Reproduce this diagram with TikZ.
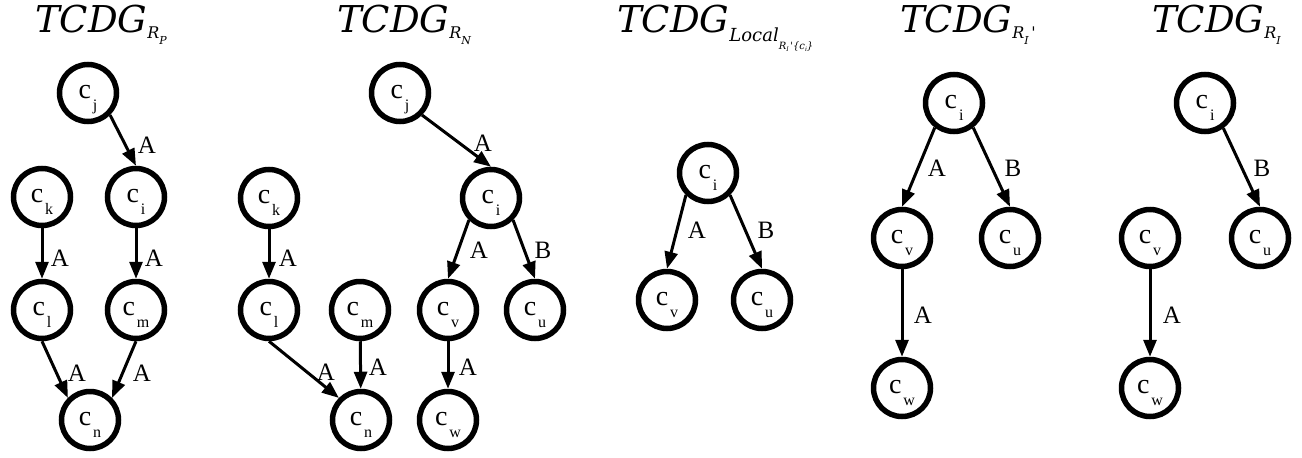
\documentclass[tikz,border=0pt]{standalone}
\usepackage{fontspec}
\setmainfont{Liberation Serif}
\newfontfamily\titlefont{DejaVu Serif}
\usetikzlibrary{arrows.meta}
\tikzset{
  cnode/.style={draw, circle, line width=5.5pt, minimum size=57pt, inner sep=0pt,
    text height=20pt, text depth=10pt, font=\fontsize{28}{28}\selectfont},
  edge/.style={line width=3pt, -{Triangle[length=17pt,width=13pt]}},
  elabel/.style={inner sep=0pt, font=\fontsize{25}{25}\selectfont},
  ttl/.style={anchor=base west, inner sep=0pt, font=\titlefont\itshape\fontsize{37}{37}\selectfont}
}
\newcommand{\cc}[1]{c\hspace{2pt}\raisebox{-12pt}{\fontsize{16}{16}\selectfont #1}}
\begin{document}
\begin{tikzpicture}[x=1pt,y=-1pt]
\useasboundingbox (0,0) rectangle (1302,458);
% titles
\node[ttl] (tp) at (35,32) {TCDG\raisebox{-6pt}{\fontsize{16}{16}\selectfont R\raisebox{-6pt}{\fontsize{11}{11}\selectfont P}}};
\node[ttl] (tn) at (337,32) {TCDG\raisebox{-6pt}{\fontsize{16}{16}\selectfont R\raisebox{-6pt}{\fontsize{11}{11}\selectfont N}}};
\node[ttl] (tl) at (617,32) {TCDG\raisebox{-9pt}{\fontsize{18}{18}\selectfont Local\raisebox{-8pt}{\fontsize{10}{10}\selectfont R\raisebox{-2pt}{\fontsize{6}{6}\selectfont I}\,'\{c\raisebox{-2pt}{\fontsize{6}{6}\selectfont i}\}}}};
\node[ttl] (ta) at (900,32) {TCDG\raisebox{-6pt}{\fontsize{16}{16}\selectfont R\raisebox{-6pt}{\fontsize{11}{11}\selectfont I}\,'}};
\node[ttl] (tb) at (1152,32) {TCDG\raisebox{-6pt}{\fontsize{16}{16}\selectfont R\raisebox{-6pt}{\fontsize{11}{11}\selectfont I}}};

% TCDG R_P
\node[cnode] (pj) at (88,93) {\cc{j}};
\node[cnode] (pk) at (42,197) {\cc{k}};
\node[cnode] (pi) at (136,197) {\cc{i}};
\node[cnode] (pl) at (42,310) {\cc{l}};
\node[cnode] (pm) at (136,310) {\cc{m}};
\node[cnode] (pn) at (90,420) {\cc{n}};
\draw[edge] (pj.south east) -- (pi.north);
\draw[edge] (pk) -- (pl);
\draw[edge] (pi) -- (pm);
\draw[edge] (pl.south) -- (pn.north west);
\draw[edge] (pm.south) -- (pn.north east);
\node[elabel] (pa1) at (147,145) {A};
\node[elabel] (pa2) at (60,258) {A};
\node[elabel] (pa3) at (154,258) {A};
\node[elabel] (pa4) at (77,373) {A};
\node[elabel] (pa5) at (142,373) {A};

% TCDG R_N
\node[cnode] (nj) at (400,93) {\cc{j}};
\node[cnode] (nk) at (269,198) {\cc{k}};
\node[cnode] (ni) at (491,198) {\cc{i}};
\node[cnode] (nl) at (269,310) {\cc{l}};
\node[cnode] (nm) at (360,310) {\cc{m}};
\node[cnode] (nv) at (448,310) {\cc{v}};
\node[cnode] (nu) at (535,310) {\cc{u}};
\node[cnode] (nn) at (361,420) {\cc{n}};
\node[cnode] (nw) at (448,420) {\cc{w}};
\draw[edge] (nj.south east) -- (ni.north);
\draw[edge] (nk) -- (nl);
\draw[edge] (ni.south west) -- (nv.north);
\draw[edge] (ni.south east) -- (nu.north);
\draw[edge] (nl.south) -- (nn.north west);
\draw[edge] (nm) -- (nn);
\draw[edge] (nv) -- (nw);
\node[elabel] (na1) at (483,143) {A};
\node[elabel] (na2) at (288,258) {A};
\node[elabel] (na3) at (479,250) {A};
\node[elabel] (nb1) at (543,250) {B};
\node[elabel] (na4) at (326,372) {A};
\node[elabel] (na5) at (378,367) {A};
\node[elabel] (na6) at (468,367) {A};

% TCDG Local
\node[cnode] (li) at (708,173) {\cc{i}};
\node[cnode] (lv) at (667,300) {\cc{v}};
\node[cnode] (lu) at (762,300) {\cc{u}};
\draw[edge] (li.south west) -- (lv.north);
\draw[edge] (li.south east) -- (lu.north);
\node[elabel] (la1) at (697,230) {A};
\node[elabel] (lb1) at (766,230) {B};

% TCDG R_I'
\node[cnode] (ai) at (954,103) {\cc{i}};
\node[cnode] (av) at (902,238) {\cc{v}};
\node[cnode] (au) at (1010,238) {\cc{u}};
\node[cnode] (aw) at (902,388) {\cc{w}};
\draw[edge] (ai.-128) -- (av.north);
\draw[edge] (ai.-52) -- (au.north);
\draw[edge] (av) -- (aw);
\node[elabel] (aa1) at (937,168) {A};
\node[elabel] (ab1) at (1013,168) {B};
\node[elabel] (aa2) at (923,315) {A};

% TCDG R_I
\node[cnode] (bi) at (1205,103) {\cc{i}};
\node[cnode] (bv) at (1150,238) {\cc{v}};
\node[cnode] (bu) at (1260,238) {\cc{u}};
\node[cnode] (bw) at (1150,388) {\cc{w}};
\draw[edge] (bi.-54) -- (bu.north);
\draw[edge] (bv) -- (bw);
\node[elabel] (bb1) at (1262,168) {B};
\node[elabel] (ba1) at (1172,315) {A};
\end{tikzpicture}
\end{document}
